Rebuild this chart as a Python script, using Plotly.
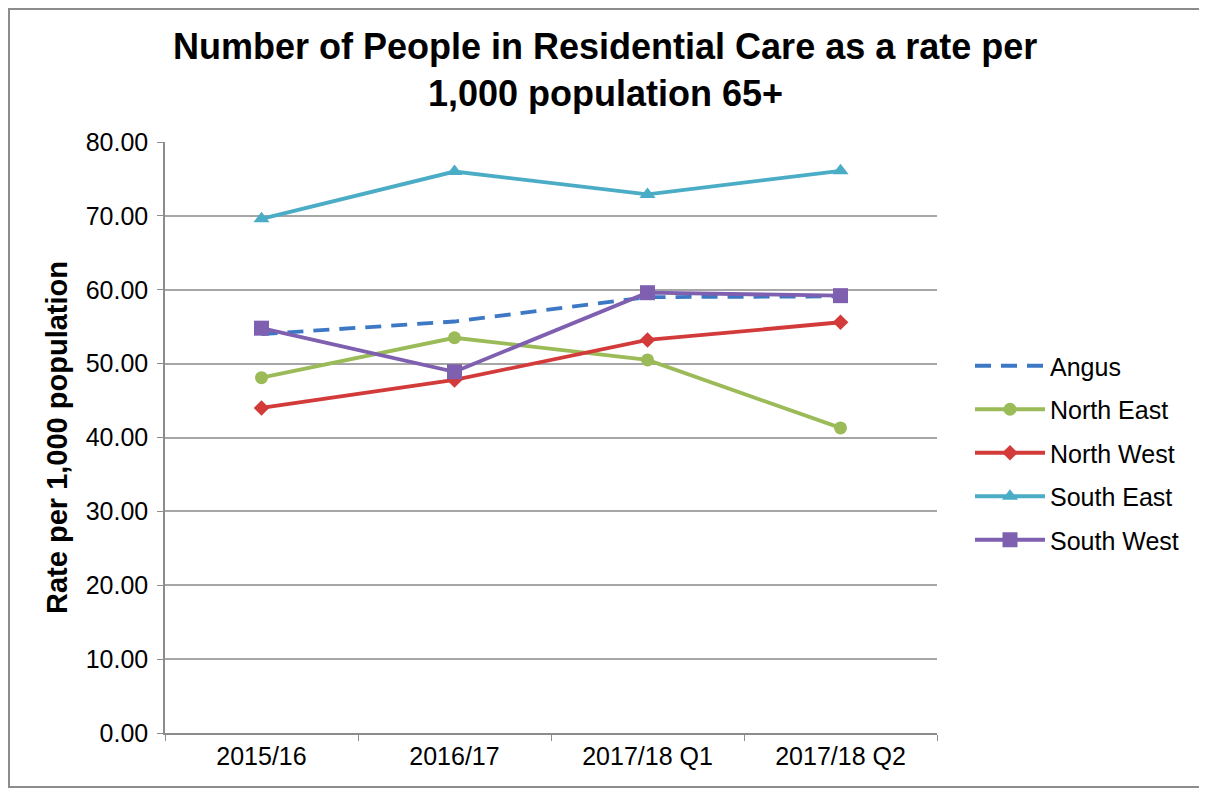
import plotly.graph_objects as go

categories = ["2015/16", "2016/17", "2017/18 Q1", "2017/18 Q2"]
angus = [54.0, 55.7, 59.0, 59.1]
north_east = [48.1, 53.5, 50.5, 41.3]
north_west = [44.0, 47.8, 53.2, 55.6]
south_east = [69.6, 76.0, 72.9, 76.1]
south_west = [54.8, 48.9, 59.6, 59.2]
y_ticks = [0, 10, 20, 30, 40, 50, 60, 70, 80]
title_lines = ["Number of People in Residential Care as a rate per", "1,000 population 65+"]

FONT = "Liberation Sans, Arial, sans-serif"

# page has an 8px body margin; figure geometry in figure pixels
W, H = 1199, 782
L, T = 157, 134
PW, PH = 772, 591
R = W - L - PW
B = H - T - PH


def px(page_x):
    return (page_x - 8 - L) / PW


def py(page_y):
    return (T + PH - (page_y - 8)) / PH


series = [
    ("Angus", angus, "#3D78C5", None, 0),
    ("North East", north_east, "#9BBB59", "circle", 13),
    ("North West", north_west, "#D23B3A", "diamond", 12),
    ("South East", south_east, "#4BACC6", "triangle-up", 14),
    ("South West", south_west, "#7F5FAF", "square", 15),
]

fig = go.Figure()
for name, vals, color, sym, size in series:
    if sym is None:
        fig.add_trace(go.Scatter(x=categories, y=vals, name=name, mode="lines",
                                 line=dict(color=color, width=3.8, dash="16px,10px"),
                                 legendgroup=name))
    else:
        fig.add_trace(go.Scatter(x=categories, y=vals, name=name, mode="lines+markers",
                                 line=dict(color=color, width=3.8),
                                 marker=dict(symbol=sym, size=size, color=color),
                                 legendgroup=name))

annotations = []
for txt, yy in zip(title_lines, [47, 93]):
    annotations.append(dict(text=f"<b>{txt}</b>", xref="paper", yref="paper",
                            x=px(605), y=py(yy), xanchor="center", yanchor="middle",
                            showarrow=False,
                            font=dict(size=36, family=FONT, color="black")))

fig.update_layout(
    width=W, height=H,
    paper_bgcolor="white", plot_bgcolor="white",
    margin=dict(l=L, r=R, t=T, b=B),
    font=dict(family=FONT, color="black"),
    annotations=annotations,
    showlegend=True,
    legend=dict(x=px(970), xanchor="left", y=py(453), yanchor="middle",
                font=dict(size=25, family=FONT, color="black"),
                tracegroupgap=8, itemwidth=70, bgcolor="rgba(0,0,0,0)"),
    shapes=[dict(type="rect", xref="paper", yref="paper",
                 x0=px(9), x1=px(1200), y0=py(787), y1=py(9),
                 line=dict(color="#8c8c8c", width=2), layer="below")],
)

fig.update_xaxes(
    type="category", range=[-0.5, 3.5],
    showline=True, linecolor="#8c8c8c", linewidth=1.5,
    ticks="outside", tickson="boundaries", ticklen=6, tickcolor="#8c8c8c",
    showgrid=False, tickfont=dict(size=25, family=FONT, color="black"),
)
fig.update_yaxes(
    range=[0, 80], tickvals=y_ticks, ticktext=[f"{v:.2f}" for v in y_ticks],
    showline=True, linecolor="#8c8c8c", linewidth=1.5,
    ticks="outside", ticklen=6, tickcolor="#8c8c8c", ticklabelstandoff=4,
    showgrid=True, gridcolor="#a6a6a6", gridwidth=1.5, zeroline=False,
    tickfont=dict(size=25, family=FONT, color="black"),
    title=dict(text="<b>Rate per 1,000 population</b>", standoff=10,
               font=dict(size=29, family=FONT, color="black")),
)

fig.write_html("out.html")
